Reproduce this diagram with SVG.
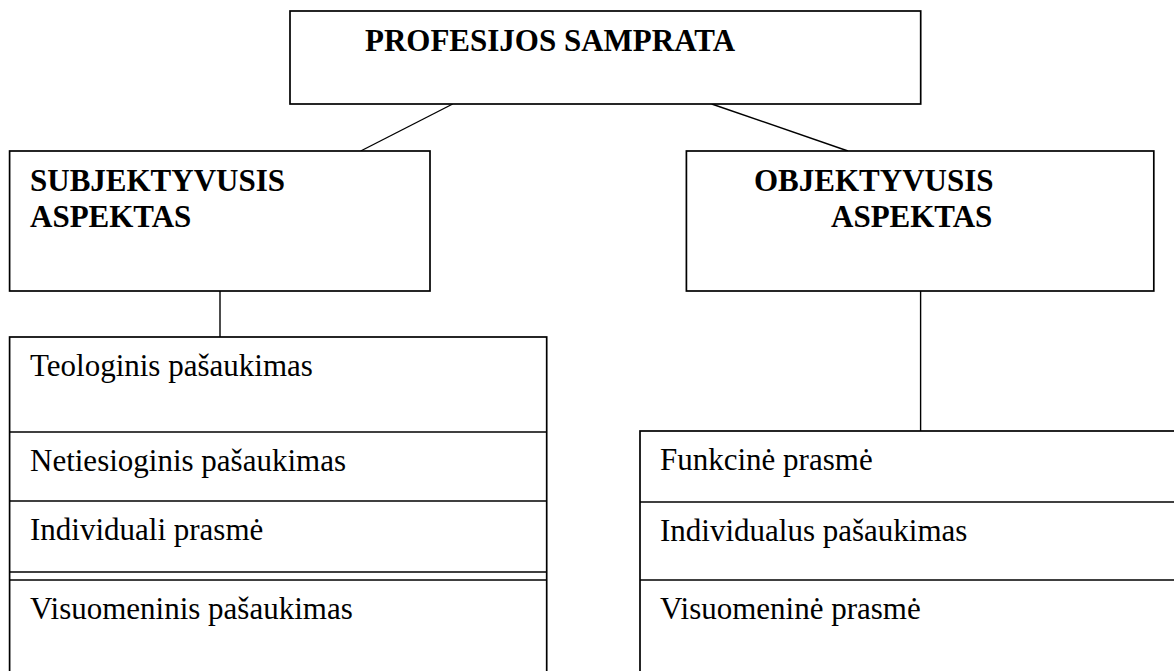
<svg xmlns="http://www.w3.org/2000/svg" width="1174" height="671" viewBox="0 0 1174 671">
  <style>
    .box { fill: #ffffff; stroke: #000000; stroke-width: 1.7; }
    .div { stroke: #000000; stroke-width: 1.7; fill: none; }
    .conn { stroke: #000000; stroke-width: 1.4; fill: none; }
    .b { font-family: "Liberation Serif", "Times New Roman", serif; font-weight: bold; font-size: 31px; fill: #000000; }
    .r { font-family: "Liberation Serif", "Times New Roman", serif; font-size: 31px; fill: #000000; }
  </style>
  <rect x="0" y="0" width="1174" height="671" fill="#ffffff"/>
  <g id="connectors">
    <line class="conn" x1="452.7" y1="104" x2="360.7" y2="151"/>
    <line class="conn" x1="711.7" y1="104" x2="848" y2="151"/>
    <line class="conn" x1="220" y1="291" x2="220" y2="337"/>
    <line class="conn" x1="920.6" y1="291" x2="920.6" y2="431"/>
  </g>
  <g id="node-profesijos">
    <rect class="box" x="290" y="11" width="630.7" height="93"/>
    <text class="b" x="365" y="51">PROFESIJOS SAMPRATA</text>
  </g>
  <g id="node-subjektyvusis">
    <rect class="box" x="9.6" y="151" width="420.4" height="140"/>
    <text class="b" x="30" y="191">SUBJEKTYVUSIS</text>
    <text class="b" x="30" y="227">ASPEKTAS</text>
  </g>
  <g id="node-objektyvusis">
    <rect class="box" x="686.4" y="151" width="467.4" height="140"/>
    <text class="b" x="754" y="191">OBJEKTYVUSIS</text>
    <text class="b" x="831" y="227">ASPEKTAS</text>
  </g>
  <g id="node-subjective-list">
    <rect class="box" x="9.6" y="337" width="537.1" height="360"/>
    <line class="div" x1="9.6" y1="432" x2="546.7" y2="432"/>
    <line class="div" x1="9.6" y1="501" x2="546.7" y2="501"/>
    <line class="div" x1="9.6" y1="572" x2="546.7" y2="572"/>
    <line class="div" x1="9.6" y1="580" x2="546.7" y2="580"/>
    <text class="r" x="30" y="376">Teologinis pašaukimas</text>
    <text class="r" x="30" y="471">Netiesioginis pašaukimas</text>
    <text class="r" x="30" y="540">Individuali prasmė</text>
    <text class="r" x="30" y="619">Visuomeninis pašaukimas</text>
  </g>
  <g id="node-objective-list">
    <rect class="box" x="640" y="431" width="560" height="270"/>
    <line class="div" x1="640" y1="502" x2="1200" y2="502"/>
    <line class="div" x1="640" y1="580" x2="1200" y2="580"/>
    <text class="r" x="660" y="470">Funkcinė prasmė</text>
    <text class="r" x="660" y="541">Individualus pašaukimas</text>
    <text class="r" x="660" y="619">Visuomeninė prasmė</text>
  </g>
</svg>
